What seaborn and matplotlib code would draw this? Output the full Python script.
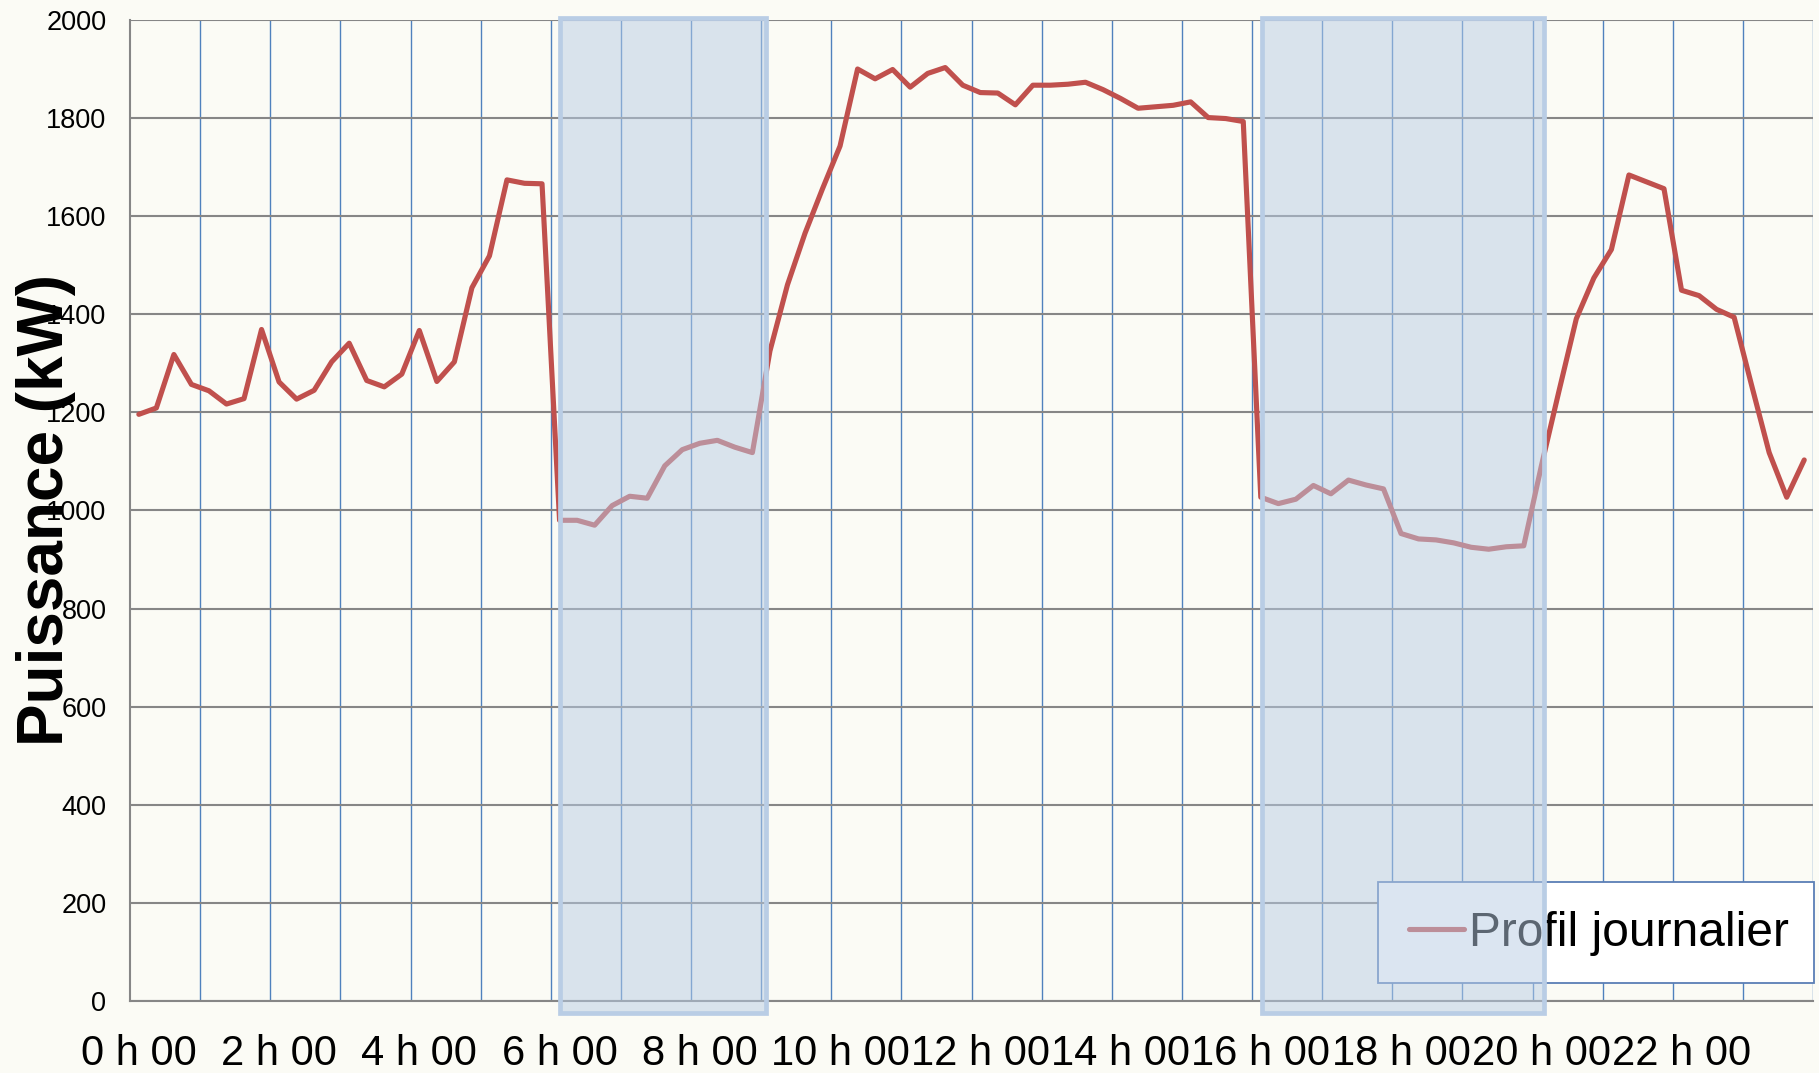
import matplotlib
matplotlib.use("Agg")
import matplotlib.pyplot as plt
import matplotlib.patches as mpatches
import numpy as np
import pandas as pd
import seaborn as sns

# -------------------------------
# Data: daily load profile, one reading every 15 minutes (kW)
# -------------------------------
power_kw = [
    1196, 1209, 1318, 1257, 1244, 1217, 1228, 1369,
    1262, 1227, 1245, 1303, 1341, 1265, 1252, 1278,
    1367, 1263, 1303, 1454, 1519, 1674, 1667, 1666,
    980, 980, 970, 1010, 1029, 1025, 1091, 1124,
    1137, 1143, 1129, 1118, 1325, 1460, 1565, 1656,
    1743, 1900, 1880, 1899, 1863, 1891, 1903, 1867,
    1852, 1851, 1827, 1867, 1867, 1869, 1873, 1858,
    1840, 1820, 1823, 1826, 1833, 1801, 1799, 1793,
    1027, 1014, 1023, 1051, 1034, 1062, 1052, 1044,
    953, 942, 940, 934, 925, 921, 926, 928,
    1090, 1242, 1391, 1474, 1532, 1684, 1670, 1656,
    1449, 1438, 1410, 1394, 1255, 1118, 1027, 1103,
]
label_hours = list(range(0, 24, 2))
hour_labels = [f"{h} h 00" for h in label_hours]
y_ticks = list(range(0, 2001, 200))
# highlighted time windows (hours)
shaded_windows = [(6.13, 9.07), (16.14, 20.16)]
series_name = "Profil journalier"

STEP_H = 0.25

# -------------------------------
# Styles
# -------------------------------
BG = "#FBFBF5"
LINE_COLOR = "#C0504D"
VGRID = "#4F81BD"
HGRID = "#868686"
SHADE_FACE = (185 / 255, 205 / 255, 229 / 255, 0.5)
SHADE_EDGE = "#B9CDE5"

sns.set_style("white")
plt.rcParams["font.family"] = ["Liberation Sans", "DejaVu Sans"]
plt.rcParams["text.color"] = "black"
plt.rcParams["axes.labelcolor"] = "black"
plt.rcParams["xtick.color"] = "black"
plt.rcParams["ytick.color"] = "black"

df = pd.DataFrame(
    {
        "heure": (np.arange(len(power_kw)) + 0.5) * STEP_H,
        "puissance": power_kw,
    }
)

fig, ax = plt.subplots(figsize=(18.19, 10.73), dpi=100)
fig.patch.set_facecolor(BG)
ax.set_facecolor(BG)
fig.subplots_adjust(left=0.0715, right=0.9967, bottom=0.0671, top=0.9814)

sns.lineplot(
    data=df, x="heure", y="puissance", ax=ax,
    color=LINE_COLOR, linewidth=3.7, label=series_name, zorder=3,
)

ax.set_xlim(0, 24)
ax.set_ylim(0, 2000)
ax.set_xticks([h + STEP_H / 2 for h in label_hours])
ax.set_xticklabels(hour_labels)
ax.set_xticks(range(1, 25), minor=True)
ax.set_yticks(y_ticks)
ax.set_axisbelow(True)
ax.grid(which="minor", axis="x", color=VGRID, linewidth=1.0)
ax.grid(which="major", axis="y", color=HGRID, linewidth=1.5)
ax.grid(which="major", axis="x", visible=False)
ax.tick_params(which="both", length=0)
ax.tick_params(axis="y", labelsize=19.5, pad=17, labelcolor="black")
ax.tick_params(axis="x", labelsize=30, pad=24, labelcolor="black")

for side in ["top", "right"]:
    ax.spines[side].set_visible(False)
for side in ["left", "bottom"]:
    ax.spines[side].set_color(HGRID)
    ax.spines[side].set_linewidth(1.5)

ax.set_xlabel("")
ax.set_ylabel("Puissance (kW)", fontsize=46, fontweight="bold", color="black")
ax.yaxis.set_label_coords(-0.032, 0.5)

# Legend box drawn by hand, text/handle from the axes legend
legend_box = mpatches.Rectangle(
    (0.7415, 0.0183), 0.2591, 0.103, transform=ax.transAxes,
    facecolor="white", edgecolor="#5A7EB5", linewidth=1.3,
    zorder=4.8, clip_on=False,
)
ax.add_patch(legend_box)
leg = ax.legend(
    loc="center left", bbox_to_anchor=(0.760, 0.0693), frameon=False,
    fontsize=34.5, handlelength=1.15, handletextpad=0.1,
    borderpad=0, borderaxespad=0, labelcolor="black",
)
leg.set_zorder(5)

# translucent highlight windows on top of everything
for start, end in shaded_windows:
    ax.add_patch(
        mpatches.Rectangle(
            (start, -0.012), end - start, 1.014,
            transform=ax.get_xaxis_transform(),
            facecolor=SHADE_FACE, edgecolor=SHADE_EDGE, linewidth=3.4,
            zorder=6, clip_on=False,
        )
    )

fig.savefig("out.png", dpi=100, facecolor=BG)
